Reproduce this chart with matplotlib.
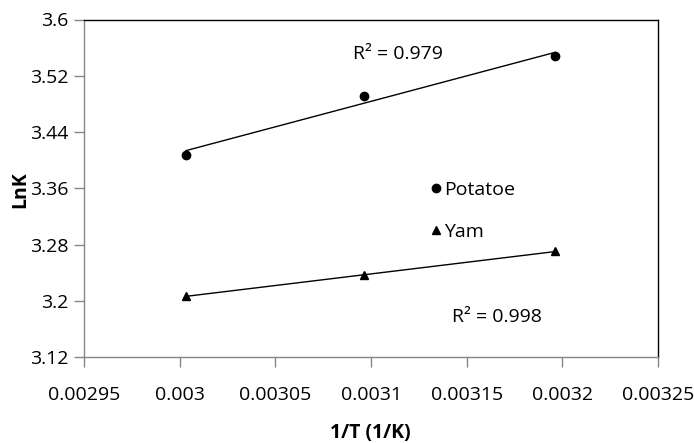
import numpy as np
import matplotlib
matplotlib.use("Agg")
import matplotlib.pyplot as plt
from matplotlib.lines import Line2D

plt.rcParams['font.family'] = ['Open Sans', 'DejaVu Sans']

# Data
inv_T = [0.0030033, 0.0030963, 0.0031962]
potatoe_lnk = [3.408, 3.492, 3.548]
yam_lnk = [3.207, 3.2365, 3.2706]
r2_potatoe = "R² = 0.979"
r2_yam = "R² = 0.998"
xticks = [0.00295, 0.003, 0.00305, 0.0031, 0.00315, 0.0032, 0.00325]
xtick_labels = ["0.00295", "0.003", "0.00305", "0.0031", "0.00315", "0.0032", "0.00325"]
yticks = [3.12, 3.2, 3.28, 3.36, 3.44, 3.52, 3.6]
ytick_labels = ["3.12", "3.2", "3.28", "3.36", "3.44", "3.52", "3.6"]

W, H = 694, 443
fig = plt.figure(figsize=(W / 100, H / 100), dpi=100)
ax = fig.add_axes([84 / W, 1 - 357.3 / H, (658 - 84) / W, (357.3 - 19.5) / H])

fs = 14
grey = '#868686'

x = np.array(inv_T)
for y, mk, ms in [(potatoe_lnk, 'o', 6), (yam_lnk, '^', 6)]:
    y = np.array(y)
    ax.plot(x, y, linestyle='none', marker=mk, color='black', markersize=ms, zorder=3)
    p = np.polyfit(x, y, 1)
    xs = np.array([x.min(), x.max()])
    ax.plot(xs, np.polyval(p, xs), color='black', linewidth=1.0, zorder=2)

ax.set_xlim(0.00295, 0.00325)
ax.set_ylim(3.12, 3.6)
ax.set_xticks(xticks)
ax.set_xticklabels(xtick_labels, fontsize=fs)
ax.set_yticks(yticks)
ax.set_yticklabels(ytick_labels, fontsize=fs)
ax.tick_params(axis='both', direction='out', length=7, width=1, color=grey, pad=4)
ax.tick_params(axis='x', pad=14)

ax.spines['left'].set_color(grey)
ax.spines['bottom'].set_color(grey)
ax.spines['top'].set_color('black')
ax.spines['right'].set_color('black')
for s in ax.spines.values():
    s.set_linewidth(1.0)

ax.text(0.0030904, 3.551, r2_potatoe, fontsize=fs, va='center', ha='left')
ax.text(0.0031422, 3.1777, r2_yam, fontsize=fs, va='center', ha='left')

handles = [
    Line2D([], [], linestyle='none', marker='o', color='black', markersize=6),
    Line2D([], [], linestyle='none', marker='^', color='black', markersize=6),
]
fig.legend(handles, ['Potatoe', 'Yam'], loc='upper left',
           bbox_to_anchor=(420 / W, 1 - 171 / H), frameon=False,
           fontsize=fs, handlelength=0.6, handletextpad=0.15, labelspacing=1.25,
           borderpad=0)

fig.text(20 / W, 1 - 190 / H, 'LnK', rotation=90, fontsize=fs, fontweight='bold',
         ha='center', va='center')
fig.text(370 / W, 1 - 433 / H, '1/T (1/K)', fontsize=fs, fontweight='bold',
         ha='center', va='center')

fig.savefig('out.png', dpi=100)
